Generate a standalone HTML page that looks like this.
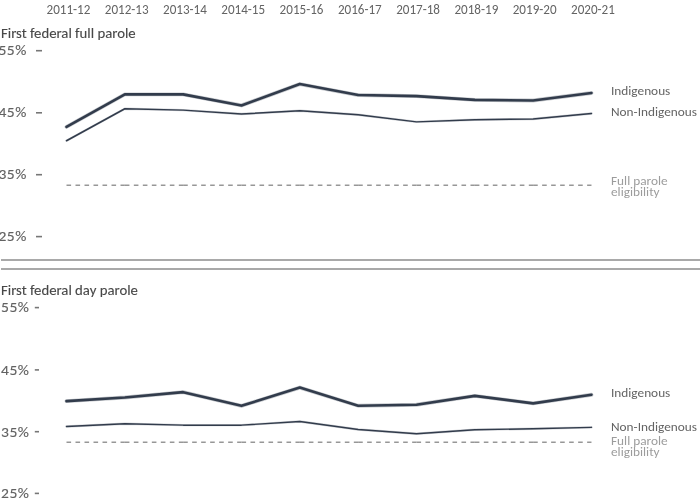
<!DOCTYPE html>
<html><head><meta charset="utf-8"><style>
html,body{margin:0;padding:0;background:#fff;}
svg{display:block;will-change:transform;}
text{font-family:Carlito,"Liberation Sans",sans-serif;stroke-width:0.12px;paint-order:stroke;}
.yr{font-size:13.1px;fill:#646464;stroke:none;text-anchor:middle;}
.ttl{font-size:14.75px;fill:#474747;stroke:#474747;}
.tk{fill:#626262;stroke:#626262;text-anchor:end;}
.lg{font-size:13.3px;fill:#646464;stroke:none;}
.lg2{font-size:13.3px;fill:#9c9c9c;stroke:none;}
.ind{fill:none;stroke:#323c4c;stroke-width:2.6;stroke-linejoin:round;stroke-linecap:round;}
.indh{fill:none;stroke:#323c4c;stroke-opacity:0.28;stroke-width:3.9;stroke-linejoin:round;stroke-linecap:round;}
.nonh{fill:none;stroke:#323c4c;stroke-opacity:0.22;stroke-width:2.4;stroke-linejoin:round;stroke-linecap:round;}
.non{fill:none;stroke:#323c4c;stroke-width:1.45;stroke-linejoin:round;stroke-linecap:round;}
.dash{stroke:#979797;stroke-width:1.5;stroke-dasharray:4.6 4.4;}
</style></head><body>
<svg width="700" height="503" viewBox="0 0 700 503">
<text transform="translate(68.40,13.55) scale(1,1.02)" class="yr">2011-12</text>
<text transform="translate(126.68,13.55) scale(1,1.02)" class="yr">2012-13</text>
<text transform="translate(184.96,13.55) scale(1,1.02)" class="yr">2013-14</text>
<text transform="translate(243.24,13.55) scale(1,1.02)" class="yr">2014-15</text>
<text transform="translate(301.52,13.55) scale(1,1.02)" class="yr">2015-16</text>
<text transform="translate(359.80,13.55) scale(1,1.02)" class="yr">2016-17</text>
<text transform="translate(418.08,13.55) scale(1,1.02)" class="yr">2017-18</text>
<text transform="translate(476.36,13.55) scale(1,1.02)" class="yr">2018-19</text>
<text transform="translate(534.64,13.55) scale(1,1.02)" class="yr">2019-20</text>
<text transform="translate(592.92,13.55) scale(1,1.02)" class="yr">2020-21</text>
<text x="1.00" y="38.00" class="ttl">First federal full parole</text>
<text transform="translate(26.90,54.65) scale(1,0.885)" class="tk" style="font-size:15.6px;letter-spacing:0.5px">55%</text>
<rect x="36.0" y="49.9" width="6.0" height="1.6" fill="#777777"/>
<text transform="translate(26.90,116.75) scale(1,0.885)" class="tk" style="font-size:15.6px;letter-spacing:0.5px">45%</text>
<rect x="36.0" y="112.0" width="6.0" height="1.6" fill="#777777"/>
<text transform="translate(26.90,178.65) scale(1,0.885)" class="tk" style="font-size:15.6px;letter-spacing:0.5px">35%</text>
<rect x="36.0" y="173.9" width="6.0" height="1.6" fill="#777777"/>
<text transform="translate(26.90,240.55) scale(1,0.885)" class="tk" style="font-size:15.6px;letter-spacing:0.5px">25%</text>
<rect x="36.0" y="235.8" width="6.0" height="1.6" fill="#777777"/>
<polyline class="indh" points="66.50,126.85 124.83,94.35 183.16,94.35 241.49,105.45 299.82,84.05 358.15,95.05 416.48,96.15 474.81,99.85 533.14,100.45 591.47,92.95"/>
<polyline class="ind" points="66.50,126.85 124.83,94.35 183.16,94.35 241.49,105.45 299.82,84.05 358.15,95.05 416.48,96.15 474.81,99.85 533.14,100.45 591.47,92.95"/>
<polyline class="nonh" points="66.50,140.75 124.83,108.75 183.16,110.15 241.49,114.05 299.82,110.75 358.15,114.75 416.48,121.85 474.81,119.75 533.14,118.95 591.47,113.45"/>
<polyline class="non" points="66.50,140.75 124.83,108.75 183.16,110.15 241.49,114.05 299.82,110.75 358.15,114.75 416.48,121.85 474.81,119.75 533.14,118.95 591.47,113.45"/>
<line x1="66.50" y1="185.3" x2="124.83" y2="185.3" class="dash"/>
<line x1="124.83" y1="185.3" x2="183.16" y2="185.3" class="dash"/>
<line x1="183.16" y1="185.3" x2="241.49" y2="185.3" class="dash"/>
<line x1="241.49" y1="185.3" x2="299.82" y2="185.3" class="dash"/>
<line x1="299.82" y1="185.3" x2="358.15" y2="185.3" class="dash"/>
<line x1="358.15" y1="185.3" x2="416.48" y2="185.3" class="dash"/>
<line x1="416.48" y1="185.3" x2="474.81" y2="185.3" class="dash"/>
<line x1="474.81" y1="185.3" x2="533.14" y2="185.3" class="dash"/>
<line x1="533.14" y1="185.3" x2="591.47" y2="185.3" class="dash"/>
<text transform="translate(611.00,94.70) scale(1,0.95)" class="lg">Indigenous</text>
<text transform="translate(611.00,115.70) scale(1,0.95)" class="lg">Non-Indigenous</text>
<text transform="translate(611.00,184.70) scale(1,0.95)" class="lg2">Full parole</text>
<text transform="translate(611.00,196.40) scale(1,0.95)" class="lg2">eligibility</text>
<rect x="1" y="259" width="699" height="2" fill="#a9a9a9"/>
<rect x="1" y="268" width="699" height="2" fill="#a9a9a9"/>
<text x="1.00" y="294.70" class="ttl">First federal day parole</text>
<text transform="translate(29.50,312.45) scale(1,0.93)" class="tk" style="font-size:15.6px;letter-spacing:0.5px">55%</text>
<rect x="34.8" y="306.8" width="4.2" height="1.6" fill="#777777"/>
<text transform="translate(29.50,374.75) scale(1,0.93)" class="tk" style="font-size:15.6px;letter-spacing:0.5px">45%</text>
<rect x="34.8" y="369.1" width="4.2" height="1.6" fill="#777777"/>
<text transform="translate(29.50,436.55) scale(1,0.93)" class="tk" style="font-size:15.6px;letter-spacing:0.5px">35%</text>
<rect x="34.8" y="430.9" width="4.2" height="1.6" fill="#777777"/>
<text transform="translate(29.50,498.25) scale(1,0.93)" class="tk" style="font-size:15.6px;letter-spacing:0.5px">25%</text>
<rect x="34.8" y="492.6" width="4.2" height="1.6" fill="#777777"/>
<polyline class="indh" points="66.50,401.15 124.83,397.55 183.16,392.15 241.49,405.85 299.82,387.55 358.15,405.75 416.48,404.75 474.81,395.85 533.14,403.35 591.47,394.75"/>
<polyline class="ind" points="66.50,401.15 124.83,397.55 183.16,392.15 241.49,405.85 299.82,387.55 358.15,405.75 416.48,404.75 474.81,395.85 533.14,403.35 591.47,394.75"/>
<polyline class="nonh" points="66.50,426.45 124.83,423.75 183.16,425.15 241.49,425.15 299.82,421.45 358.15,429.45 416.48,433.75 474.81,429.75 533.14,428.75 591.47,427.35"/>
<polyline class="non" points="66.50,426.45 124.83,423.75 183.16,425.15 241.49,425.15 299.82,421.45 358.15,429.45 416.48,433.75 474.81,429.75 533.14,428.75 591.47,427.35"/>
<line x1="66.50" y1="442.3" x2="124.83" y2="442.3" class="dash"/>
<line x1="124.83" y1="442.3" x2="183.16" y2="442.3" class="dash"/>
<line x1="183.16" y1="442.3" x2="241.49" y2="442.3" class="dash"/>
<line x1="241.49" y1="442.3" x2="299.82" y2="442.3" class="dash"/>
<line x1="299.82" y1="442.3" x2="358.15" y2="442.3" class="dash"/>
<line x1="358.15" y1="442.3" x2="416.48" y2="442.3" class="dash"/>
<line x1="416.48" y1="442.3" x2="474.81" y2="442.3" class="dash"/>
<line x1="474.81" y1="442.3" x2="533.14" y2="442.3" class="dash"/>
<line x1="533.14" y1="442.3" x2="591.47" y2="442.3" class="dash"/>
<text transform="translate(611.00,397.40) scale(1,0.95)" class="lg">Indigenous</text>
<text transform="translate(611.00,430.90) scale(1,0.95)" class="lg">Non-Indigenous</text>
<text transform="translate(611.00,444.90) scale(1,0.95)" class="lg2">Full parole</text>
<text transform="translate(611.00,456.00) scale(1,0.95)" class="lg2">eligibility</text>
</svg>
</body></html>
